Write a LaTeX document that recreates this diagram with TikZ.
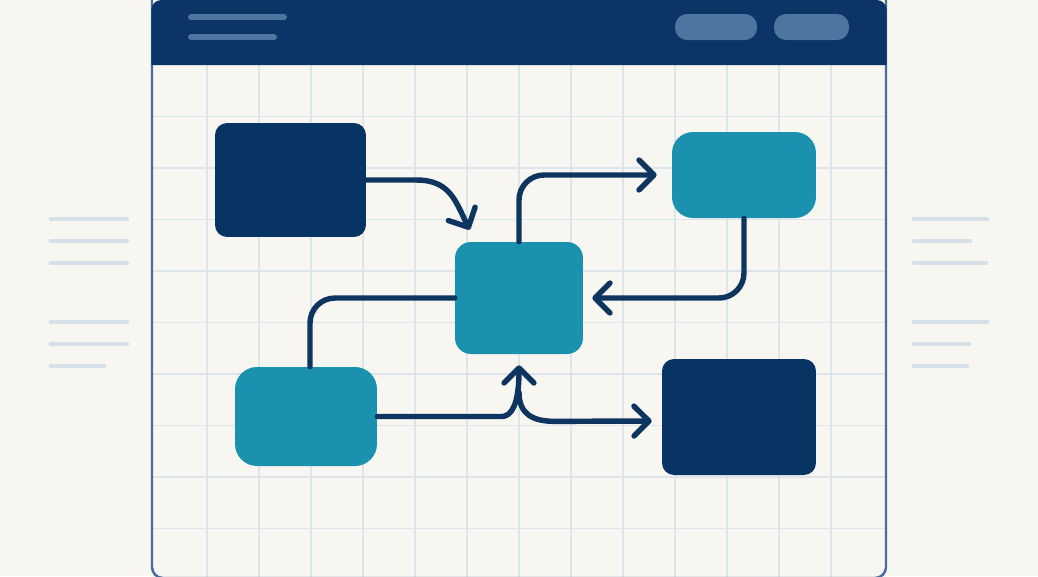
\documentclass[tikz,border=0pt]{standalone}
\usepackage{xcolor}
\usepackage{tikz}
\usetikzlibrary{arrows.meta, calc}

\definecolor{paper}{HTML}{F8F6F1}
\definecolor{hdrnavy}{HTML}{0A3566}
\definecolor{hdrlight}{HTML}{4E74A0}
\definecolor{boxnavy}{HTML}{083463}
\definecolor{boxteal}{HTML}{1B91B0}
\definecolor{linkblue}{HTML}{0D3560}
\definecolor{gridblue}{HTML}{DCE5EC}
\definecolor{framblue}{HTML}{4A6C9B}
\definecolor{sidegrey}{HTML}{D6E0E8}

\begin{document}
\begin{tikzpicture}[
  x=0.02cm, y=-0.02cm,
  block/.style={rectangle, inner sep=0pt, draw=none},
  link/.style={draw=linkblue, line width=3.1pt, line cap=round, line join=round},
  flow/.style={link, -{Straight Barb[length=8.5pt, width=17pt, line cap=round, line join=round]}},
  gridline/.style={draw=gridblue, line width=1.1pt},
  sideline/.style={draw=sidegrey, line width=2.8pt, line cap=round},
  hdrbar/.style={draw=hdrlight, line width=3.4pt, line cap=round}
]
  \useasboundingbox (0,0) rectangle (1038,576);
  \fill[paper] (0,0) rectangle (1038,576);

  % side text lines
  \foreach \y/\l in {219/127, 241/127, 263/127, 322/127, 344/127, 366/104}
    \draw[sideline] (51,\y) -- (\l,\y);
  \foreach \y/\r in {219/987, 241/970, 263/986, 322/987, 344/969, 366/967}
    \draw[sideline] (914,\y) -- (\r,\y);

  % window
  \fill[paper] (152,0) rectangle (886,578);
  \foreach \x in {0,...,12}
    \draw[gridline] ({207+52*\x},65) -- ({207+52*\x},578);
  \foreach \y in {1,...,9}
    \draw[gridline] (152,{65+51.5*\y}) -- (886,{65+51.5*\y});
  \draw[framblue, line width=1.4pt, rounded corners=0.22cm] (152,0) -- (152,578) -- (886,578) -- (886,0);
  \fill[hdrnavy] (151.3,65) {[rounded corners=0.2cm] -- (151.3,0) -- (886.7,0)} -- (886.7,65) -- cycle;
  \draw[hdrbar] (191,17) -- (284,17);
  \draw[hdrbar] (191,37) -- (274,37);
  \fill[hdrlight, rounded corners=0.24cm] (675,14) rectangle (757,40);
  \fill[hdrlight, rounded corners=0.24cm] (774,14) rectangle (849,40);

  % blocks
  \node[block, fill=boxnavy, minimum width=3.02cm, minimum height=2.28cm, rounded corners=0.24cm] (src) at (290.5,180) {};
  \node[block, fill=boxteal, minimum width=2.56cm, minimum height=2.24cm, rounded corners=0.32cm] (hub) at (519,298) {};
  \node[block, fill=boxteal, minimum width=2.88cm, minimum height=1.72cm, rounded corners=0.42cm] (top) at (744,175) {};
  \node[block, fill=boxteal, minimum width=2.84cm, minimum height=1.98cm, rounded corners=0.44cm] (low) at (306,416.5) {};
  \node[block, fill=boxnavy, minimum width=3.08cm, minimum height=2.32cm, rounded corners=0.24cm] (sink) at (739,417) {};

  % connectors
  \draw[flow] (src.east) -- ++(50,0) .. controls +(34,0) and +(-14,-28) .. ($(hub.north west)+(15,-12)$);
  \draw[flow, rounded corners=0.5cm] (hub.north) |- ($(top.west)+(-15,0)$);
  \draw[flow, rounded corners=0.5cm] (top.south) |- ($(hub.east)+(9,0)$);
  \draw[link, rounded corners=0.5cm] (hub.west) -| ($(low.north)+(4,0)$);
  \coordinate (fork) at ($(hub.south)+(0,38)$);
  \draw[flow] (low.east) -- ++(124,0) .. controls +(16,0) and +(0,22) .. ($(hub.south)+(0,11)$);
  \draw[flow] (fork) .. controls +(0,22) and +(-22,0) .. ++(36,29) -- ($(sink.west)+(-10,4)$);
\end{tikzpicture}
\end{document}
